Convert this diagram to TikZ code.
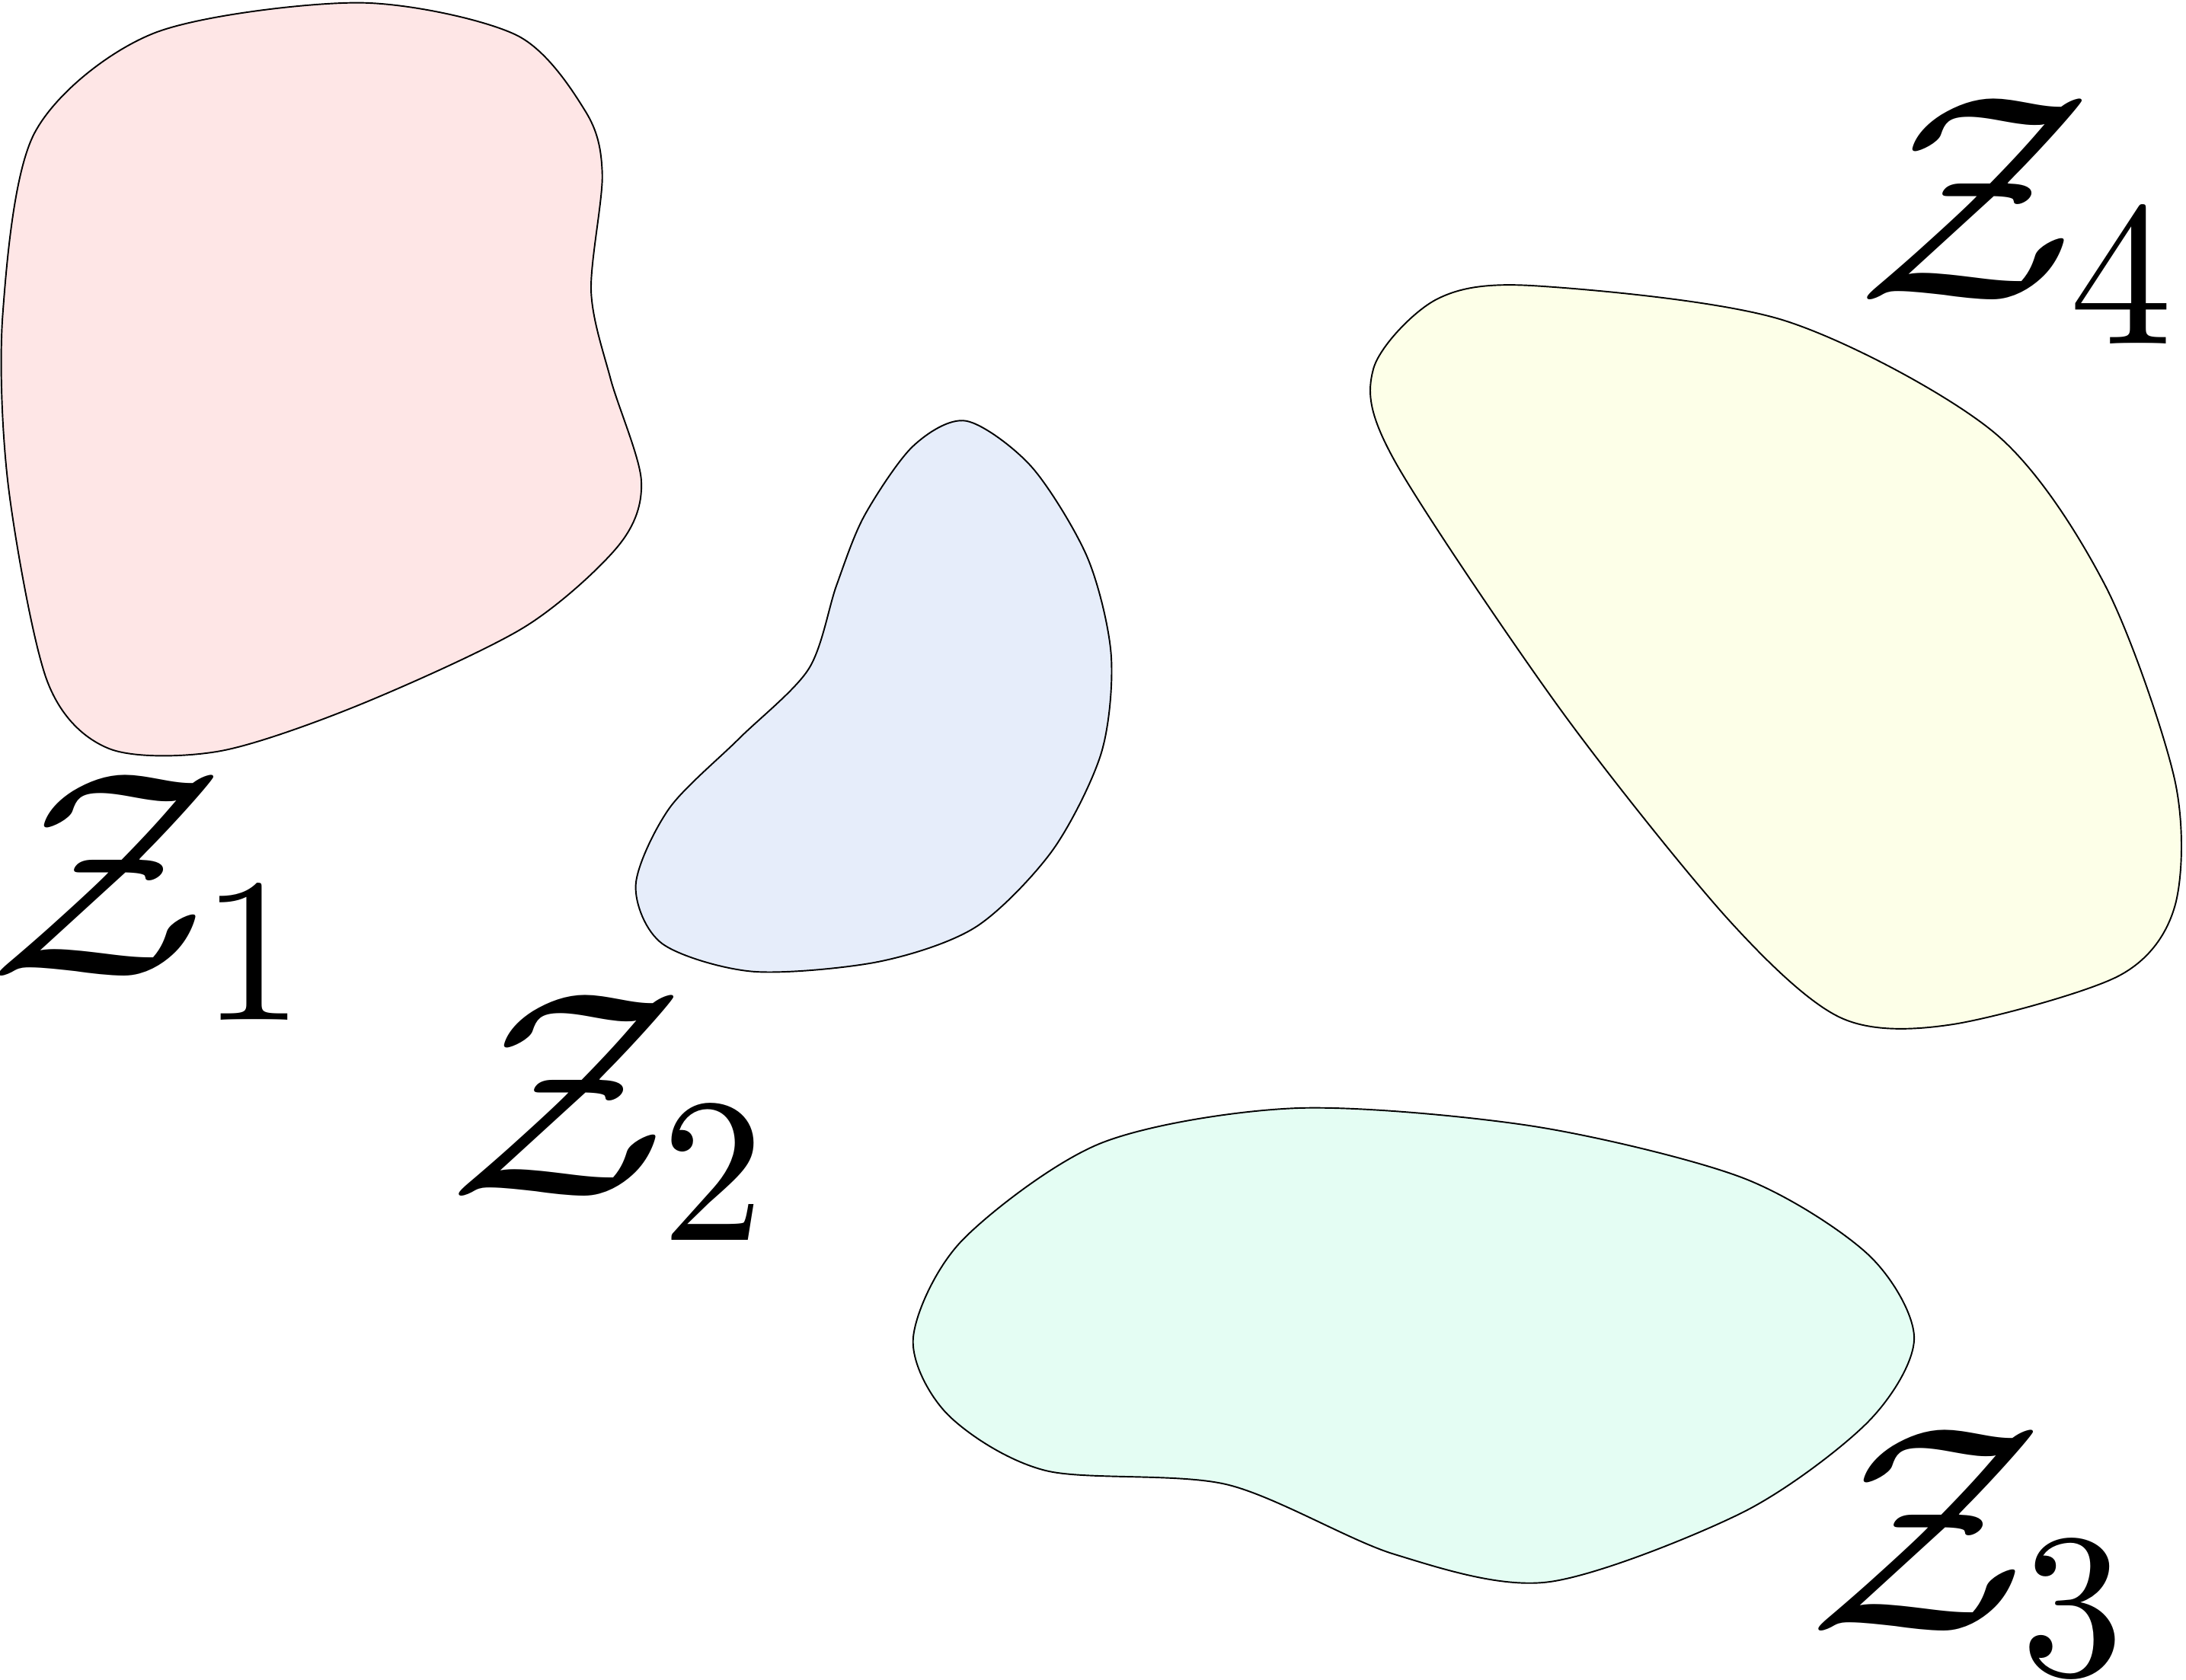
\documentclass[tikz,border=0pt]{standalone}
% scalable math fonts for the large labels
\DeclareFontShape{OT1}{cmr}{m}{n}{<-6> cmr5 <6-8> cmr7 <8-> cmr10}{}
\DeclareFontShape{OML}{cmm}{m}{it}{<-6> cmmi5 <6-8> cmmi7 <8-> cmmi10}{}
\DeclareFontShape{OMS}{cmsy}{m}{n}{<-6> cmsy5 <6-8> cmsy7 <8-> cmsy10}{}
\DeclareFontShape{OMX}{cmex}{m}{n}{<-> cmex10}{}
\DeclareMathSizes{60}{60}{42}{30}
\newcommand\zset{\mathcal{Z}}
\definecolor{regionred}{RGB}{254,230,230}
\definecolor{regionblue}{RGB}{230,237,250}
\definecolor{regiongreen}{RGB}{228,253,243}
\definecolor{regionyellow}{RGB}{253,255,232}
\tikzset{
  region/.style={line width=0.3pt, draw=black},
  zlabel/.style={anchor=base west, inner sep=0pt, font=\fontsize{60}{66}\selectfont}
}
\begin{document}
\begin{tikzpicture}
    \useasboundingbox (0,0) rectangle (15.68,12.05);

    % Region 1
    \draw[region, fill=regionred] plot[smooth cycle] coordinates {
      (2.57,12.03) (3.70,11.80) (4.20,11.25) (4.32,10.80) (4.24,9.96) (4.38,9.33) (4.60,8.60)
      (4.44,8.14) (3.76,7.55) (2.57,6.99) (1.57,6.66) (0.78,6.68) (0.34,7.16)
      (0.06,8.56) (0.02,9.80) (0.25,11.10) (1.10,11.81)};

    % Region 2
    \draw[region, fill=regionblue] plot[smooth cycle] coordinates {
      (6.93,9.03) (7.40,8.70) (7.80,8.05) (7.97,7.35) (7.90,6.65) (7.55,5.95)
      (7.00,5.40) (6.30,5.15) (5.40,5.08) (4.75,5.28) (4.56,5.70) (4.80,6.25)
      (5.30,6.75) (5.80,7.25) (6.00,7.85) (6.20,8.35) (6.55,8.85)};

    % Region 3
    \draw[region, fill=regiongreen] plot[smooth cycle] coordinates {
      (9.30,4.10) (11.00,3.97) (12.50,3.60) (13.40,3.05) (13.73,2.45) (13.40,1.85)
      (12.50,1.20) (11.10,0.70) (10.00,0.90) (8.80,1.40) (7.50,1.50) (6.80,1.90)
      (6.55,2.45) (6.90,3.15) (7.90,3.85)};

    % Region 4
    \draw[region, fill=regionyellow] plot[smooth cycle] coordinates {
      (11.00,10.00) (12.80,9.75) (14.30,8.95) (15.10,7.85) (15.60,6.45) (15.60,5.55)
      (15.20,5.05) (14.00,4.70) (13.20,4.75) (12.40,5.45) (11.20,6.95) (10.00,8.75)
      (9.85,9.40) (10.30,9.90)};

    % Labels
    \node[zlabel] (z1) at (-0.09,5.05) {$\zset_1$};
    \node[zlabel] (z2) at (3.21,3.47) {$\zset_2$};
    \node[zlabel] (z3) at (12.96,0.35) {$\zset_3$};
    \node[zlabel] (z4) at (13.31,9.90) {$\zset_4$};
\end{tikzpicture}
\end{document}
